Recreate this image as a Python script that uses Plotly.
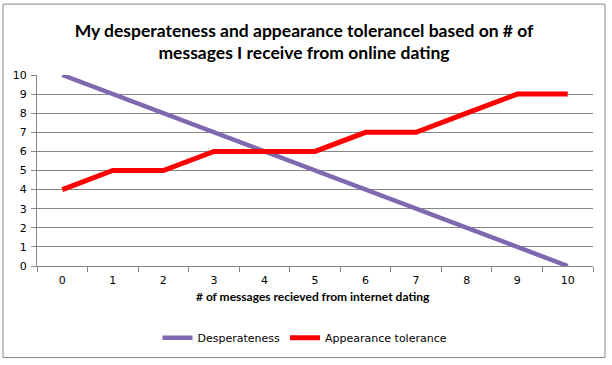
import plotly.graph_objects as go

messages = ["0", "1", "2", "3", "4", "5", "6", "7", "8", "9", "10"]
desperateness = [10, 9, 8, 7, 6, 5, 4, 3, 2, 1, 0]
appearance_tolerance = [4, 5, 5, 6, 6, 6, 7, 7, 8, 9, 9]
y_ticks = [0, 1, 2, 3, 4, 5, 6, 7, 8, 9, 10]

W, H = 612, 365
L, R, T, B = 37, 19, 75, 96
PW, PH = W - L - R, H - T - B

def px(x):
    return (x - L) / PW

def py(y):
    return (H - B - y) / PH

fig = go.Figure()
fig.add_trace(go.Scatter(x=messages, y=desperateness, mode="lines", name="Desperateness",
                         line=dict(color="#7F68B0", width=4.5)))
fig.add_trace(go.Scatter(x=messages, y=appearance_tolerance, mode="lines", name="Appearance tolerance",
                         line=dict(color="#FF0000", width=5)))

fig.update_layout(
    width=W, height=H,
    margin=dict(l=L, r=R, t=T, b=B),
    paper_bgcolor="white", plot_bgcolor="white",
    font=dict(family="DejaVu Sans", size=11, color="black"),
    title=dict(text="My desperateness and appearance tolerancel based on # of<br>messages I receive from online dating",
               x=304 / W, xanchor="center", xref="container",
               y=1 - 36.5 / H, yanchor="middle", yref="container",
               font=dict(family="Lato", size=17.5, color="black", weight="bold")),
    showlegend=True,
    legend=dict(orientation="h", x=px(305), xanchor="center", y=py(342), yanchor="middle",
                font=dict(family="DejaVu Sans", size=11, color="black"), bgcolor="rgba(0,0,0,0)",
                itemwidth=30),
    xaxis=dict(type="category", tickson="boundaries", ticks="outside", ticklen=5, tickcolor="#868686",
               showline=True, linecolor="#868686", linewidth=1, showgrid=False, zeroline=False,
               range=[-0.5, 10.5], tickfont=dict(size=11), ticklabelstandoff=4, automargin=False),
    yaxis=dict(range=[0, 10], tickvals=y_ticks, ticks="outside", ticklen=5, tickcolor="#868686",
               showline=True, linecolor="#868686", linewidth=1, showgrid=True, gridcolor="#868686",
               gridwidth=1, zeroline=False, tickfont=dict(size=11), ticklabelstandoff=2, automargin=False),
    annotations=[dict(text="<b># of messages recieved from internet dating</b>", xref="paper", yref="paper",
                      x=px(313), y=py(300), xanchor="center", yanchor="middle", showarrow=False,
                      font=dict(family="Lato", size=12, color="black"))],
    shapes=[dict(type="rect", xref="paper", yref="paper", x0=px(3), x1=px(605), y0=py(362), y1=py(3),
                 line=dict(color="#888888", width=1), layer="below")],
)

fig.write_html("out.html", config={"displayModeBar": False},
               post_script="document.body.style.margin='0';")
